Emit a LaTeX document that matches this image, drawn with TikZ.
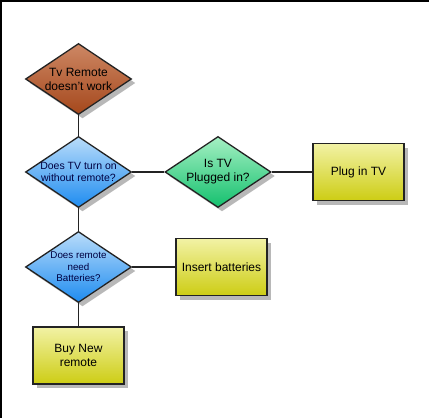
\documentclass[tikz,border=0pt]{standalone}
\usepackage{fontspec}
\setmainfont{Liberation Sans}
\usetikzlibrary{shapes.geometric,shadows}
\definecolor{brownT}{RGB}{205,135,100}
\definecolor{brownB}{RGB}{165,72,28}
\definecolor{blueT}{RGB}{185,220,250}
\definecolor{blueB}{RGB}{30,140,240}
\definecolor{greenT}{RGB}{165,240,195}
\definecolor{greenB}{RGB}{20,192,110}
\definecolor{yelT}{RGB}{242,242,165}
\definecolor{yelB}{RGB}{205,205,20}
\definecolor{edge}{RGB}{35,35,35}
\begin{document}
\begin{tikzpicture}[x=1pt,y=-1pt,
  sh/.style={drop shadow={shadow xshift=4pt,shadow yshift=-4pt,fill=black!28,opacity=1}},
  dia/.style={diamond,draw=edge,line width=1.3pt,inner sep=0pt,minimum width=106pt,minimum height=71pt,sh},
  boxn/.style={rectangle,draw=edge,line width=1.5pt,minimum width=91pt,minimum height=57pt,
    top color=yelT,bottom color=yelB,sh,font=\fontsize{12}{14.5}\selectfont,align=center},
  lab/.style={font=\fontsize{12}{14}\selectfont,align=center},
  smlab/.style={font=\fontsize{10.5}{12.5}\selectfont,align=center,text=black!75!blue},
  tinylab/.style={font=\fontsize{9.8}{11.5}\selectfont,align=center,text=black!75!blue},
  conn/.style={draw=edge,line width=1.5pt}]
\useasboundingbox (0,0) rectangle (429,418);
\fill[white] (0,0) rectangle (429,418);
\draw[line width=1.5pt] (0.75,418) -- (0.75,0.75) -- (429,0.75);
% nodes
\node[dia,top color=brownT,bottom color=brownB,label={[lab]center:Tv Remote\\doesn't work}] (d1) at (78.5,79) {};
\node[dia,top color=blueT,bottom color=blueB,label={[smlab]center:Does TV turn on\\without remote?}] (d2) at (78.5,172) {};
\node[dia,top color=greenT,bottom color=greenB,label={[lab]center:Is TV\\Plugged in?}] (d3) at (218,172) {};
\node[dia,top color=blueT,bottom color=blueB,label={[tinylab]center:Does remote\\need\\Batteries?}] (d4) at (78.5,267) {};
\node[boxn] (plug) at (358.5,172) {Plug in TV};
\node[boxn] (ins) at (221.5,267) {Insert batteries};
\node[boxn] (buy) at (78.5,355.5) {Buy New\\remote};
% connectors
\draw[conn] (d1.south) -- (d2.north);
\draw[conn] (d2.east) -- (d3.west);
\draw[conn] (d3.east) -- (plug.west);
\draw[conn] (d2.south) -- (d4.north);
\draw[conn] (d4.east) -- (ins.west);
\draw[conn] (d4.south) -- (buy.north);
\end{tikzpicture}
\end{document}
